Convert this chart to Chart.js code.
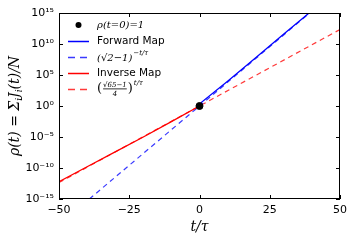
<!DOCTYPE html>
<html>
<head>
<meta charset="utf-8">
<script src="https://cdn.jsdelivr.net/npm/chart.js@4.4.0/dist/chart.umd.min.js"></script>
<style>
  html, body { margin: 0; padding: 0; background: #fff; }
  #wrap { width: 353px; height: 240px; position: relative; }
</style>
</head>
<body>
<div id="wrap"><canvas id="rhoChart"></canvas></div>
<script>
// Valores
const xTicks = [-50, -25, 0, 25, 50];
const yTicks = [1e-15, 1e-10, 1e-5, 1, 1e5, 1e10, 1e15];

const initT = [0];
const initRho = [1];

const forwardT = [0.3, 0.7, 10, 20, 30, 39];
const forwardRho = [1.2, 4, 1e4, 6e7, 4e11, 1e15];

const forwardFitT = [-39.2, 0, 39.2];
const forwardFitRho = [1e-15, 1, 1e15];

const inverseT = [-50, -40, -30, -20, -10, 0];
const inverseRho = [6e-13, 1.6e-10, 4e-8, 1e-5, 3e-3, 1];

const inverseFitT = [-50, 0, 50];
const inverseFitRho = [4.5e-13, 1, 2.2e12];

const SERIF = '"DejaVu Serif", serif';
const SANS = '"DejaVu Sans", sans-serif';
const SUP = { '0': '⁰', '1': '¹', '5': '⁵', '-': '⁻' };

const BLUE = '#0000ff', BLUE_DASH = '#3a3aff';
const RED = '#ff0000', RED_DASH = '#ff3a3a';

function toPoints(xs, ys) {
    return xs.map((x, i) => ({ x: x, y: ys[i] }));
}

function supLabel(v) {
    const e = Math.round(Math.log10(v));
    return '10' + String(e).split('').map(c => SUP[c]).join('');
}

// Desenha ticks para dentro nos quatro lados + moldura
const frameTicks = {
    id: 'frameTicks',
    afterDraw(chart) {
        const ctx = chart.ctx;
        const a = chart.chartArea;
        const xs = chart.scales.x, ys = chart.scales.y;
        ctx.save();
        ctx.strokeStyle = '#000';
        ctx.lineWidth = 1;
        ctx.strokeRect(a.left + 0.5, a.top + 0.5, a.right - a.left - 1, a.bottom - a.top - 1);
        ctx.beginPath();
        xTicks.forEach(t => {
            const px = Math.round(xs.getPixelForValue(t)) + 0.5;
            ctx.moveTo(px, a.bottom); ctx.lineTo(px, a.bottom - 4);
            ctx.moveTo(px, a.top); ctx.lineTo(px, a.top + 4);
        });
        yTicks.forEach(t => {
            const py = Math.round(ys.getPixelForValue(t)) + 0.5;
            ctx.moveTo(a.left, py); ctx.lineTo(a.left + 4, py);
            ctx.moveTo(a.right, py); ctx.lineTo(a.right - 4, py);
        });
        ctx.stroke();
        ctx.restore();
    }
};

// Títulos dos eixos com índices
const axisTitles = {
    id: 'axisTitles',
    afterDraw(chart) {
        const ctx = chart.ctx;
        const a = chart.chartArea;
        ctx.save();
        ctx.fillStyle = '#000';
        ctx.textBaseline = 'alphabetic';

        // t/τ
        ctx.font = 'italic 14px ' + SERIF;
        ctx.textAlign = 'center';
        ctx.fillText('t/τ', (a.left + a.right) / 2, 231);

        // ρ(t) = Σ_i J_i(t)/N
        const big = 'italic 14px ' + SERIF;
        const small = 'italic 9px ' + SERIF;
        const parts = [
            [big, 'ρ(t) = Σ', 0], [small, 'i', 3], [big, 'J', 0], [small, 'i', 3], [big, '(t)/N', 0]
        ];
        let total = 0;
        parts.forEach(p => { ctx.font = p[0]; total += ctx.measureText(p[1]).width; });
        ctx.translate(19, (a.top + a.bottom) / 2);
        ctx.rotate(-Math.PI / 2);
        ctx.textAlign = 'left';
        let x = -total / 2;
        parts.forEach(p => {
            ctx.font = p[0];
            ctx.fillText(p[1], x, p[2]);
            x += ctx.measureText(p[1]).width;
        });
        ctx.restore();
    }
};

// Legenda desenhada à mão (texto matemático)
const mathLegend = {
    id: 'mathLegend',
    afterDraw(chart) {
        const ctx = chart.ctx;
        const x0 = 68, x1 = 89, tx = 97;
        const rows = [25, 41, 57, 73, 89];
        ctx.save();
        ctx.textBaseline = 'middle';
        ctx.textAlign = 'left';

        // ponto
        ctx.fillStyle = '#000';
        ctx.beginPath();
        ctx.arc(78.5, rows[0], 3, 0, Math.PI * 2);
        ctx.fill();
        ctx.font = 'italic 10px ' + SERIF;
        ctx.fillText('ρ(t=0)=1', tx, rows[0]);

        const sample = (y, color, dashed) => {
            ctx.strokeStyle = color;
            ctx.lineWidth = 1.5;
            ctx.beginPath();
            if (dashed) {
                ctx.moveTo(x0, y + 0.5); ctx.lineTo(x0 + 7, y + 0.5);
                ctx.moveTo(x0 + 12, y + 0.5); ctx.lineTo(x0 + 19, y + 0.5);
            } else {
                ctx.moveTo(x0, y + 0.5); ctx.lineTo(x1, y + 0.5);
            }
            ctx.stroke();
        };

        sample(rows[1], BLUE, false);
        ctx.fillStyle = '#000';
        ctx.font = '10.5px ' + SANS;
        ctx.fillText('Forward Map', tx, rows[1]);

        sample(rows[2], BLUE_DASH, true);
        ctx.font = 'italic 10px ' + SERIF;
        let w = ctx.measureText('(√2−1)').width;
        ctx.fillText('(√2−1)', tx, rows[2] + 1);
        ctx.font = 'italic 7px ' + SERIF;
        ctx.fillText('−t/τ', tx + w + 1, rows[2] - 4);

        sample(rows[3], RED, false);
        ctx.font = '10.5px ' + SANS;
        ctx.fillText('Inverse Map', tx, rows[3]);

        sample(rows[4], RED_DASH, true);
        const y = rows[4];
        ctx.font = '13px ' + SERIF;
        ctx.fillText('(', tx, y);
        let px = tx + ctx.measureText('(').width;
        ctx.font = 'italic 7px ' + SERIF;
        const num = '√65−1';
        const nw = ctx.measureText(num).width;
        ctx.fillText(num, px + 1, y - 4);
        ctx.textAlign = 'center';
        ctx.fillText('4', px + 1 + nw / 2, y + 5);
        ctx.fillRect(px + 1, y - 0.5, nw, 0.8);
        ctx.textAlign = 'left';
        px += nw + 2;
        ctx.font = '13px ' + SERIF;
        ctx.fillText(')', px, y);
        px += ctx.measureText(')').width + 1;
        ctx.font = 'italic 7px ' + SERIF;
        ctx.fillText('t/τ', px, y - 6);
        ctx.restore();
    }
};

const ctx = document.getElementById('rhoChart').getContext('2d');
new Chart(ctx, {
    type: 'line',
    data: {
        datasets: [
            {
                label: 'Forward Map (ajuste)',
                data: toPoints(forwardFitT, forwardFitRho),
                borderColor: BLUE_DASH,
                borderWidth: 1.2,
                borderDash: [5, 4],
                pointRadius: 0,
                order: 3
            },
            {
                label: 'Inverse Map (ajuste)',
                data: toPoints(inverseFitT, inverseFitRho),
                borderColor: RED_DASH,
                borderWidth: 1.2,
                borderDash: [5, 4],
                pointRadius: 0,
                order: 4
            },
            {
                label: 'Forward Map',
                data: toPoints(forwardT, forwardRho),
                borderColor: BLUE,
                borderWidth: 1.3,
                pointRadius: 0,
                order: 2
            },
            {
                label: 'Inverse Map',
                data: toPoints(inverseT, inverseRho),
                borderColor: RED,
                borderWidth: 1.3,
                pointRadius: 0,
                order: 2
            },
            {
                label: 'rho(t=0)=1',
                data: toPoints(initT, initRho),
                showLine: false,
                pointRadius: 3.5,
                pointBackgroundColor: '#000',
                pointBorderColor: '#000',
                order: 1
            }
        ]
    },
    options: {
        responsive: true,
        maintainAspectRatio: false,
        animation: false,
        layout: { padding: { top: 13, right: 13, left: 0, bottom: 0 } },
        plugins: {
            legend: { display: false },
            tooltip: { enabled: false }
        },
        scales: {
            x: {
                type: 'linear',
                min: -50,
                max: 50,
                afterBuildTicks: s => { s.ticks = xTicks.map(v => ({ value: v })); },
                afterFit: s => { s.height = 41; },
                grid: { display: false, drawTicks: false },
                border: { display: false },
                ticks: {
                    padding: 5,
                    color: '#000',
                    font: { family: SANS, size: 11 },
                    callback: v => String(v).replace('-', '−')
                }
            },
            y: {
                type: 'logarithmic',
                min: 1e-15,
                max: 1e15,
                afterBuildTicks: s => { s.ticks = yTicks.map(v => ({ value: v })); },
                afterFit: s => { s.width = 59; },
                grid: { display: false, drawTicks: false },
                border: { display: false },
                ticks: {
                    padding: 5,
                    color: '#000',
                    font: { family: SANS, size: 11 },
                    callback: v => supLabel(v)
                }
            }
        }
    },
    plugins: [frameTicks, axisTitles, mathLegend]
});
</script>
</body>
</html>
